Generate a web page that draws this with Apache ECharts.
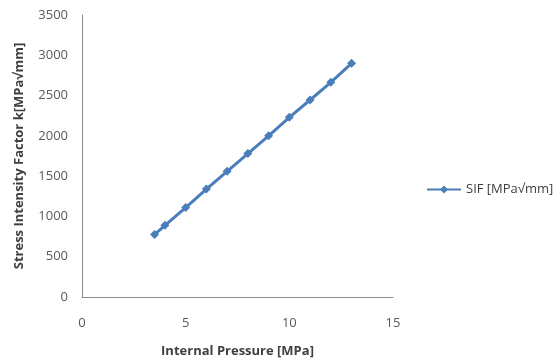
<!DOCTYPE html>
<html><head><meta charset="utf-8">
<script src="https://cdn.jsdelivr.net/npm/echarts@6/dist/echarts.min.js"></script>
<style>html,body{margin:0;padding:0;background:#fff}#c{width:555px;height:360px}</style>
</head><body><div id="c"></div>
<script>
var pressure = [3.5, 4, 5, 6, 7, 8, 9, 10, 11, 12, 13];
var sif = [775, 890, 1110, 1340, 1560, 1780, 2000, 2230, 2445, 2665, 2900];
var seriesName = 'SIF [MPa\u221Amm]';
var xTitle = 'Internal Pressure [MPa]';
var yTitle = 'Stress Intensity Factor k[MPa\u221Amm]';

var chart = echarts.init(document.getElementById('c'));
chart.setOption({
  animation: false,
  textStyle: {fontFamily: 'Open Sans, Liberation Sans, sans-serif'},
  grid: {left: 82, top: 15, right: 162, bottom: 63, outerBoundsMode: 'none', containLabel: false},
  legend: {
    orient: 'vertical', left: 421, top: 178,
    itemWidth: 34, itemHeight: 10, itemGap: 4,
    textStyle: {fontSize: 13, color: '#404040'},
    data: [seriesName]
  },
  xAxis: {
    type: 'value', min: 0, max: 15, interval: 5,
    name: xTitle, nameLocation: 'middle', nameGap: 48,
    nameTextStyle: {fontSize: 13, fontWeight: 'bold', color: '#404040'},
    axisLine: {lineStyle: {color: '#8c8c8c'}},
    axisTick: {show: false},
    splitLine: {show: false},
    axisLabel: {fontSize: 13, color: '#595959', margin: 20}
  },
  yAxis: {
    type: 'value', min: 0, max: 3500, interval: 500,
    name: yTitle, nameLocation: 'middle', nameGap: 56,
    nameTextStyle: {fontSize: 13, fontWeight: 'bold', color: '#404040'},
    axisLine: {show: true, lineStyle: {color: '#8c8c8c'}},
    axisTick: {show: false},
    splitLine: {show: false},
    axisLabel: {fontSize: 13, color: '#595959', margin: 14, formatter: function(v){ return String(v); }}
  },
  series: [{
    name: seriesName, type: 'line',
    data: pressure.map(function(x, i){ return [x, sif[i]]; }),
    symbol: 'diamond', symbolSize: 9,
    lineStyle: {width: 3, color: '#4a7ebb'},
    itemStyle: {color: '#4a7ebb'}
  }]
});
</script></body></html>
